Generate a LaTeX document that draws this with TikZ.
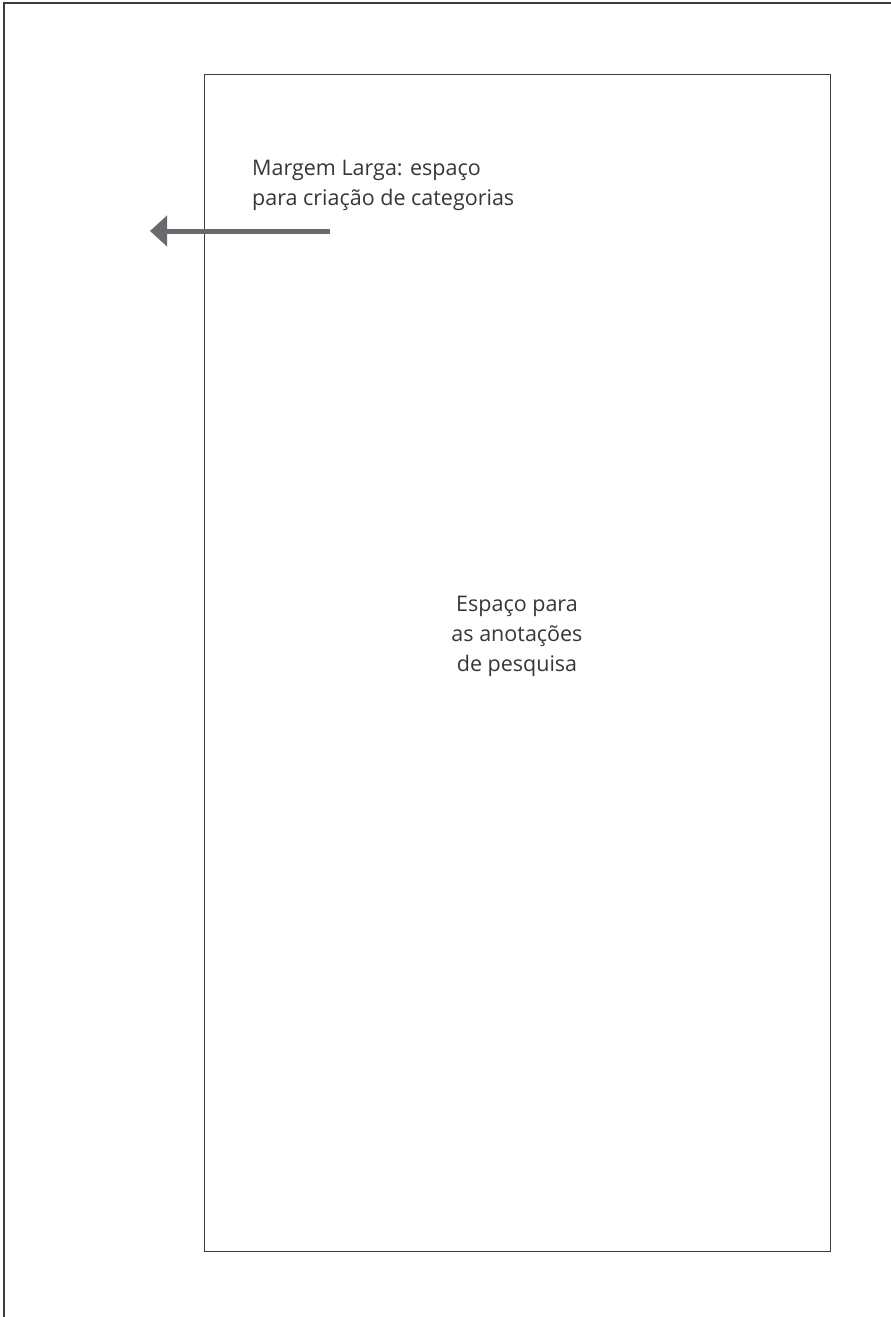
\documentclass[tikz,border=0pt]{standalone}
\usepackage{fontspec}
\setmainfont{Open Sans}
\usetikzlibrary{arrows.meta}
\definecolor{framegray}{RGB}{60,60,60}
\definecolor{arrowgray}{RGB}{105,106,110}
\definecolor{textgray}{RGB}{55,55,55}
\tikzset{
  frameline/.style={draw=framegray, line width=1.2pt},
  label/.style={text=textgray, inner sep=0pt, font=\fontsize{21.5}{30}\selectfont},
  pointer/.style={draw=arrowgray, line width=5pt, -{Triangle[length=17pt,width=30pt]}}
}
\begin{document}
\begin{tikzpicture}[x=1pt,y=-1pt]
\useasboundingbox (0,0) rectangle (891,1317);
\fill[white] (0,0) rectangle (891,1317);
% outer sheet (left and top edges visible)
\coordinate (o1) at (4,1317);
\coordinate (o2) at (4,3);
\coordinate (o3) at (891,3);
\draw[frameline] (o1) -- (o2) -- (o3);
% inner page
\node (page) [frameline, minimum width=626pt, minimum height=1177pt, inner sep=0pt, anchor=north west] at (204,74) {};
% labels
\node (margem) [label, anchor=north west, align=left] at (252,160) {Margem Larga: espaço\\para criação de categorias};
\node (espaco) [label, anchor=north, align=center] at (517,596) {Espaço para\\as anotações\\de pesquisa};
% arrow
\coordinate (as) at (330,231);
\coordinate (ae) at (150,231);
\draw[pointer] (as) -- (ae);
\end{tikzpicture}
\end{document}
